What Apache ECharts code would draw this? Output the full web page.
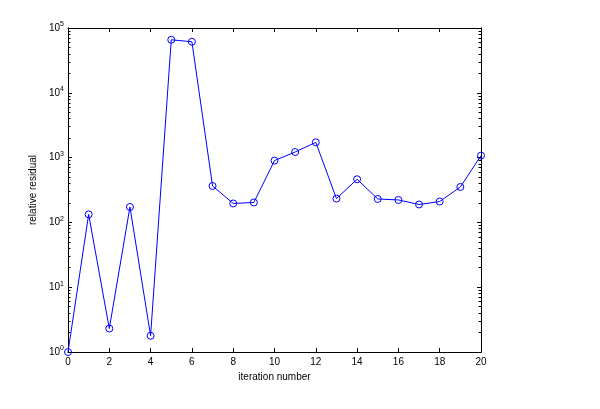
<!DOCTYPE html>
<html>
<head>
<meta charset="utf-8">
<script src="https://cdn.jsdelivr.net/npm/echarts@6/dist/echarts.min.js"></script>
<style>
html,body{margin:0;padding:0;background:#fff;}
#main{width:600px;height:409px;}
</style>
</head>
<body>
<div id="main"></div>
<script>
const iterations = [0,1,2,3,4,5,6,7,8,9,10,11,12,13,14,15,16,17,18,19,20];
const residuals = [1, 133, 2.3, 173, 1.78, 65800, 61300, 365, 196, 203, 899, 1220, 1720, 233, 463, 230, 222, 189, 210, 352, 1073];
const xTicks = [0,2,4,6,8,10,12,14,16,18,20];
const yMajor = [1,10,100,1000,10000,100000];
const yMinor = [];
for (let d = 1; d < 100000; d *= 10) for (let k = 2; k <= 9; k++) yMinor.push(k * d);

const font = 'Liberation Sans';
const chart = echarts.init(document.getElementById('main'), null, {renderer:'canvas'});
const lineStyle = {color:'#000', width:1};
const baseY = {type:'log', logBase:10, min:1, max:100000, splitLine:{show:false}, axisLine:{show:true, onZero:false, lineStyle}};
chart.setOption({
  animation:false,
  backgroundColor:'#fff',
  grid:{left:68, right:119, top:28, bottom:57, containLabel:false},
  xAxis:[
    {type:'value', min:0, max:20, interval:2, position:'bottom',
     axisLine:{show:true, onZero:false, lineStyle},
     axisTick:{show:true, inside:true, length:4, lineStyle, customValues:xTicks},
     splitLine:{show:false},
     axisLabel:{color:'#000', fontFamily:font, fontSize:10, margin:5, customValues:xTicks},
     name:'iteration number', nameLocation:'middle', nameGap:16,
     nameTextStyle:{color:'#000', fontFamily:font, fontSize:10}},
    {type:'value', min:0, max:20, interval:2, position:'top',
     axisLine:{show:true, onZero:false, lineStyle},
     axisTick:{show:true, inside:true, length:4, lineStyle},
     splitLine:{show:false}, axisLabel:{show:false}}
  ],
  yAxis:[
    Object.assign({}, baseY, {position:'left',
      axisTick:{show:true, inside:true, length:4, lineStyle, customValues:yMajor},
      axisLabel:{color:'#000', fontFamily:font, fontSize:10, margin:4, customValues:yMajor,
        formatter:function(v){ const e = Math.round(Math.log10(v)); return '10{s|' + e + '}'; },
        rich:{s:{fontSize:7, fontFamily:font, color:'#000', verticalAlign:'bottom', padding:[0,0,7,0]}}},
      name:'relative residual', nameLocation:'middle', nameGap:30, nameRotate:90,
      nameTextStyle:{color:'#000', fontFamily:font, fontSize:10}}),
    Object.assign({}, baseY, {position:'left',
      axisTick:{show:true, inside:true, length:2.5, lineStyle, customValues:yMinor},
      axisLabel:{show:false}}),
    Object.assign({}, baseY, {position:'right',
      axisTick:{show:true, inside:true, length:4, lineStyle, customValues:yMajor},
      axisLabel:{show:false}}),
    Object.assign({}, baseY, {position:'right',
      axisTick:{show:true, inside:true, length:2.5, lineStyle, customValues:yMinor},
      axisLabel:{show:false}})
  ],
  series:[{
    type:'line',
    xAxisIndex:0, yAxisIndex:0,
    data: iterations.map((x,i)=>[x, residuals[i]]),
    symbol:'circle', symbolSize:7,
    lineStyle:{color:'#0000ff', width:1},
    itemStyle:{color:'rgba(0,0,0,0)', borderColor:'#0000ff', borderWidth:1},
    emphasis:{disabled:true},
    clip:false
  }]
});
</script>
</body>
</html>
